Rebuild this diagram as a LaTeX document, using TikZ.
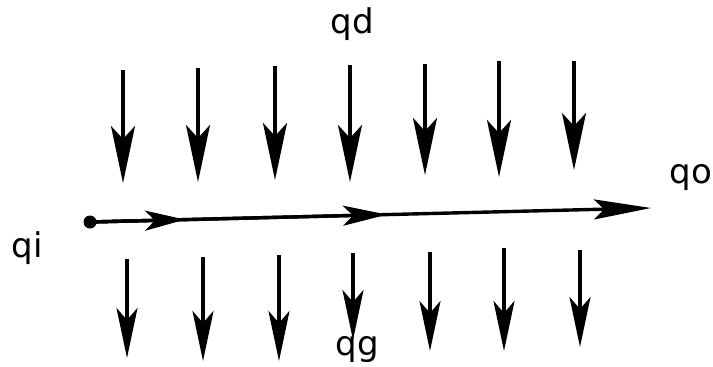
\documentclass[tikz,border=0pt]{standalone}
\usepackage{fontspec}
\setmainfont{DejaVu Sans}
\usetikzlibrary{arrows.meta}
\begin{document}
\begin{tikzpicture}[x=1pt,y=-1pt,
  lbl/.style={font=\fontsize{34}{40}\selectfont, anchor=base, inner sep=0pt},
  topflow/.style={line width=3.4pt, -{Stealth[length=57pt,width=24pt,inset=13pt]}},
  botflow/.style={line width=3.4pt, -{Stealth[length=50pt,width=21pt,inset=12pt]}},
  mainflow/.style={line width=3.4pt, -{Stealth[length=#1,width=20pt,inset=10pt]}},
  mainflow/.default=42pt,
  dot/.style={circle, fill=black, inner sep=0pt, minimum size=13pt}]
\useasboundingbox (0,0) rectangle (713,367);

% inlet point and the axial stream, with two intermediate heads
\node[dot] (qi) at (90,222) {};
\coordinate (m1) at (185,219.6);
\coordinate (m2) at (387,214.6);
\coordinate (out) at (651,208);
\draw[mainflow=57pt] (qi.center) -- (out);
\draw[mainflow=40pt] (qi.center) -- (m1);
\draw[mainflow=44pt] (qi.center) -- (m2);

% incoming flow from above
\foreach \i/\x/\a/\b in {1/123/70/183, 2/198/68/182, 3/275/66/180, 4/350/65/182,
                         5/425/64/175, 6/499/61/177, 7/574/61/170} {
  \coordinate (d\i s) at (\x,\a);
  \coordinate (d\i e) at (\x,\b);
  \draw[topflow] (d\i s) -- (d\i e);
}

% outgoing flow below
\foreach \i/\x/\a/\b in {1/127/259/358, 2/203/257/361, 3/279/255/361, 4/353/253/340,
                         5/430/252/351, 6/504/248/351, 7/580/250/347} {
  \coordinate (g\i s) at (\x,\a);
  \coordinate (g\i e) at (\x,\b);
  \draw[botflow] (g\i s) -- (g\i e);
}

% labels
\node[lbl] (lqd) at (352,33) {qd};
\node[lbl] (lqi) at (27,257) {qi};
\node[lbl] (lqo) at (691,183) {qo};
\node[lbl] (lqg) at (357,355) {qg};
\end{tikzpicture}
\end{document}
